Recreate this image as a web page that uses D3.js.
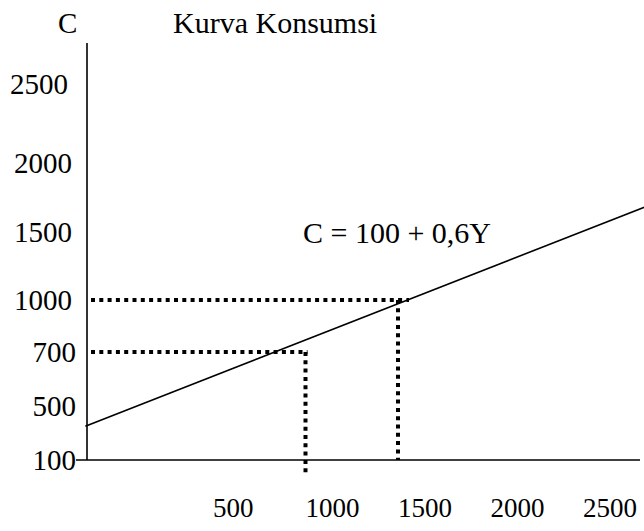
<!DOCTYPE html>
<html>

<head>
    <title>Kurva Konsumsi</title>
    <script src="https://d3js.org/d3.v7.min.js"></script>
    <style>
        body {
            margin: 0;
            background: #fff;
        }

        svg text {
            font-family: "Liberation Serif", "Times New Roman", serif;
            fill: #000;
        }

        .tick-label {
            font-size: 29px;
        }

        .title {
            font-size: 30px;
        }

        .x-label {
            font-size: 27px;
        }
    </style>
</head>

<body>
    <svg id="chart" width="644" height="531"></svg>

    <script>
        // values
        const yTicks = [100, 500, 700, 1000, 1500, 2000, 2500];   // C axis
        const xTicks = [500, 1000, 1500, 2000, 2500];              // Y axis
        const consumption = [{ Y: -190, C: 350 }, { Y: 2870, C: 1700 }]; // C = 100 + 0,6Y
        const guides = [{ Y: 1000, C: 700 }, { Y: 1500, C: 1000 }];

        const svg = d3.select("#chart");
        const axisX = 87;      // where the C axis stands
        const axisTop = 43;
        const axisRight = 640;

        // the C axis of the sketch is not evenly spaced, so it is piecewise linear
        const yScale = d3.scaleLinear()
            .domain(yTicks)
            .range([460, 406, 352, 300, 232, 163, 84]);

        const xScale = d3.scaleLinear()
            .domain([500, 2500])
            .range([213, 583]);

        const base = yScale(100);

        // axes
        svg.append("line")
            .attr("x1", axisX).attr("x2", axisX)
            .attr("y1", axisTop).attr("y2", base)
            .attr("stroke", "#000").attr("stroke-width", 1.6);

        svg.append("line")
            .attr("x1", axisX - 11).attr("x2", axisRight)
            .attr("y1", base).attr("y2", base)
            .attr("stroke", "#000").attr("stroke-width", 1.6);

        // tick labels (typed by hand in the original, so the right edges wander a bit)
        svg.selectAll(".y-tick")
            .data(yTicks)
            .enter()
            .append("text")
            .attr("class", "tick-label y-tick")
            .attr("text-anchor", "end")
            .attr("x", d => d < 1000 ? 76 : (d === 2500 ? 68 : 72))
            .attr("y", d => yScale(d) + 10)
            .text(d => d);

        svg.selectAll(".x-tick")
            .data(xTicks)
            .enter()
            .append("text")
            .attr("class", "x-label x-tick")
            .attr("x", d => xScale(d))
            .attr("y", 517)
            .text(d => d);

        // titles
        svg.append("text")
            .attr("class", "tick-label")
            .attr("x", 58).attr("y", 33)
            .text("C");

        svg.append("text")
            .attr("class", "title")
            .attr("x", 173).attr("y", 33)
            .text("Kurva Konsumsi");

        svg.append("text")
            .attr("class", "title")
            .attr("x", 303).attr("y", 243)
            .text("C = 100 + 0,6Y");

        // dotted guides
        const dotted = svg.append("g")
            .attr("stroke", "#000")
            .attr("stroke-width", 4)
            .attr("stroke-dasharray", "4 4.3")
            .attr("fill", "none");

        guides.forEach((g, i) => {
            const gx = xScale(g.Y);
            const gy = yScale(g.C);
            dotted.append("line")
                .attr("x1", axisX + 4).attr("x2", gx + (i === 1 ? 11 : 2))
                .attr("y1", gy).attr("y2", gy);
            dotted.append("line")
                .attr("x1", gx).attr("x2", gx)
                .attr("y1", gy).attr("y2", i === 0 ? base + 13 : base);
        });

        // consumption line
        svg.append("line")
            .attr("x1", xScale(consumption[0].Y))
            .attr("y1", yScale(consumption[0].C))
            .attr("x2", xScale(consumption[1].Y))
            .attr("y2", yScale(consumption[1].C))
            .attr("stroke", "#000")
            .attr("stroke-width", 1.6);
    </script>
</body>

</html>
